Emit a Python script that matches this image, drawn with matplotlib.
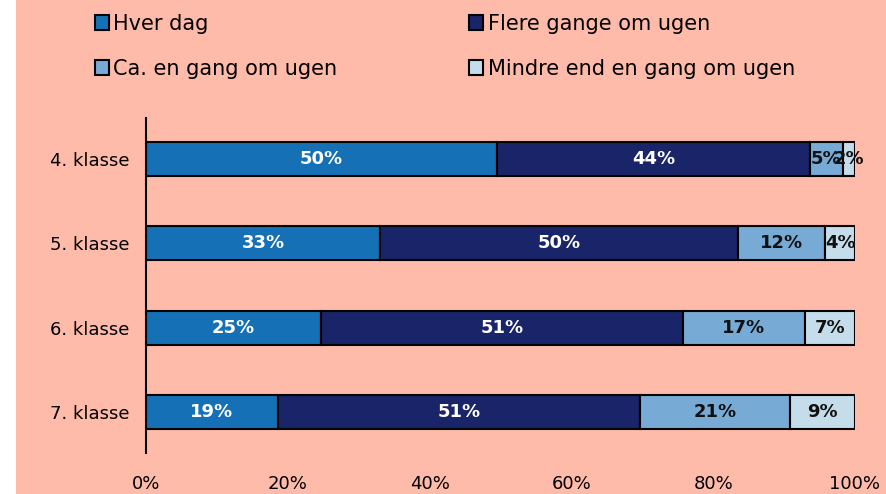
import matplotlib.pyplot as plt
import numpy as np
from matplotlib.patches import Rectangle

# data
klasser = ["4. klasse", "5. klasse", "6. klasse", "7. klasse"]
serier = ["Hver dag", "Flere gange om ugen", "Ca. en gang om ugen", "Mindre end en gang om ugen"]
hver_dag = [49.5, 33.0, 24.7, 18.6]
flere_gange = [44.1, 50.5, 51.0, 51.1]
en_gang = [4.7, 12.3, 17.2, 21.1]
mindre = [1.7, 4.2, 7.1, 9.2]
labels = [["50%", "33%", "25%", "19%"],
          ["44%", "50%", "51%", "51%"],
          ["5%", "12%", "17%", "21%"],
          ["2%", "4%", "7%", "9%"]]
farver = ["#1570b5", "#1a2468", "#78aad6", "#c5dceb"]
tekstfarve = ["white", "white", "#111111", "#111111"]
xticks = [0, 20, 40, 60, 80, 100]

peach = "#ffbba9"
fig = plt.figure(figsize=(8.87, 4.94), dpi=100, facecolor=peach)
fig.patches.append(Rectangle((0, 0), 16/887, 1, transform=fig.transFigure,
                             facecolor="white", edgecolor="none", zorder=-1))

ax = fig.add_axes([146/887, 1-453/494, 709/887, 335/494])
ax.set_facecolor(peach)

y = np.arange(len(klasser))
left = np.zeros(len(klasser))
handles = []
for i, vals in enumerate([hver_dag, flere_gange, en_gang, mindre]):
    bars = ax.barh(y, vals, left=left, height=0.40, color=farver[i],
                   edgecolor="black", linewidth=1.5, label=serier[i])
    handles.append(bars)
    for j, b in enumerate(bars):
        cx = left[j] + vals[j]/2
        ax.text(cx, y[j], labels[i][j], ha="center", va="center",
                color=tekstfarve[i], fontsize=13, fontweight="bold")
    left = left + np.array(vals)

ax.set_xlim(0, 100)
ax.set_ylim(3.486, -0.486)
ax.set_yticks(y)
ax.set_yticklabels(klasser, fontsize=13)
ax.set_xticks(xticks)
ax.set_xticklabels([str(t) + "%" for t in xticks], fontsize=13)
ax.tick_params(axis="both", length=0)
ax.tick_params(axis="x", pad=16)
ax.tick_params(axis="y", pad=12)
ax.spines["top"].set_visible(False)
ax.spines["right"].set_visible(False)
ax.spines["bottom"].set_visible(False)
ax.spines["left"].set_linewidth(1.5)

# legend: column-wise fill -> Hver, Ca. / Flere, Mindre
order = [0, 2, 1, 3]
leg = fig.legend([handles[k] for k in order], [serier[k] for k in order],
                 ncol=2, loc="upper left", bbox_to_anchor=(76/887, 1.01),
                 frameon=False, fontsize=15, handlelength=0.7, handleheight=0.7,
                 handletextpad=0.2, columnspacing=6.3, labelspacing=1.2)

fig.savefig("out.png", dpi=100, facecolor=fig.get_facecolor())
